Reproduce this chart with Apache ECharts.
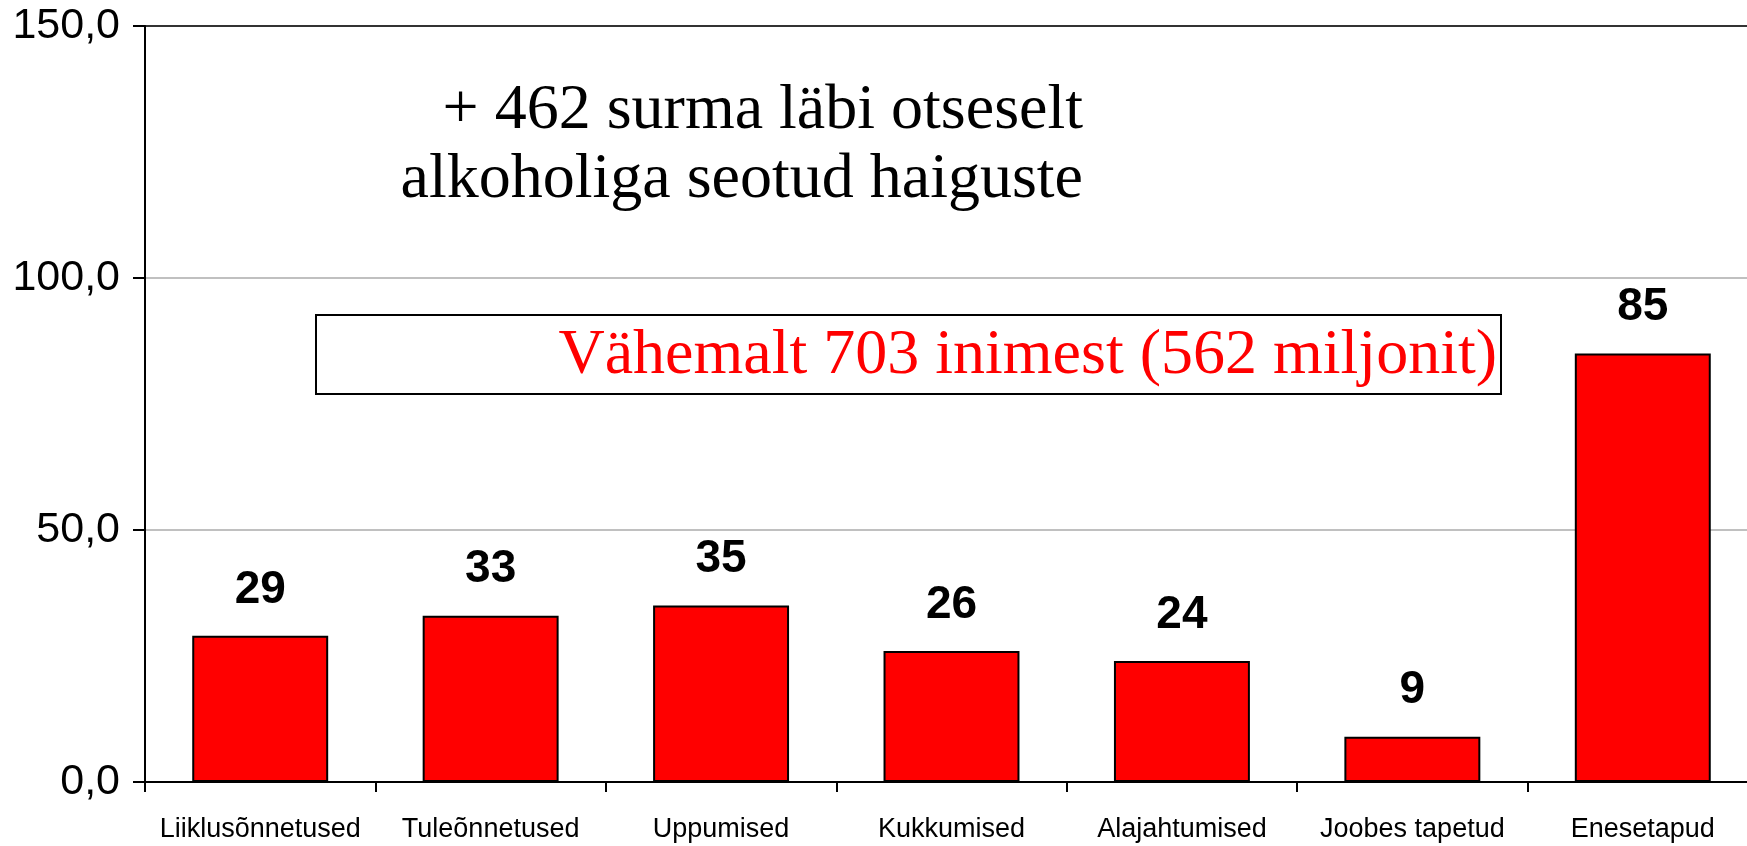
<!DOCTYPE html>
<html>
<head>
<meta charset="utf-8">
<script src="https://cdn.jsdelivr.net/npm/echarts@6/dist/echarts.min.js"></script>
<style>
  html, body { margin: 0; padding: 0; background: #fff; overflow: hidden; }
  #main { width: 1758px; height: 846px; }
</style>
</head>
<body>
<div id="main"></div>
<script>
// andmed
var categories = ['Liiklusõnnetused', 'Tuleõnnetused', 'Uppumised', 'Kukkumised', 'Alajahtumised', 'Joobes tapetud', 'Enesetapud'];
var deaths = [29, 33, 35, 26, 24, 9, 85];
var yTicks = [0, 50, 100, 150];

var note1 = ['+ 462 surma läbi otseselt', 'alkoholiga seotud haiguste'];
var note2 = 'Vähemalt 703 inimest (562 miljonit)';

// joonis on veidi laiem kui aken, viimane tulp ulatub serva taha nagu originaalis
var chart = echarts.init(document.getElementById('main'));

var option = {
    animation: false,
    backgroundColor: '#fff',
    grid: { left: 145, right: 0, top: 26, bottom: 64 },
    xAxis: {
        type: 'category',
        data: categories,
        boundaryGap: true,
        axisLine: { lineStyle: { color: '#000', width: 2 } },
        axisTick: { show: true, alignWithLabel: false, length: 10, lineStyle: { color: '#000', width: 2 } },
        axisLabel: {
            interval: 0,
            margin: 34,
            color: '#000',
            fontSize: 27,
            fontFamily: '"Liberation Sans", Arial, sans-serif'
        }
    },
    yAxis: {
        type: 'value',
        min: yTicks[0],
        max: yTicks[yTicks.length - 1],
        interval: 50,
        axisLine: { show: true, lineStyle: { color: '#000', width: 2 } },
        axisTick: { show: true, inside: false, length: 12, lineStyle: { color: '#000', width: 2 } },
        axisLabel: {
            margin: 25,
            color: '#000',
            fontSize: 43,
            fontFamily: '"Liberation Sans", Arial, sans-serif',
            formatter: function (v) { return v.toFixed(1).replace('.', ','); }
        },
        splitLine: {
            show: true,
            lineStyle: { color: ['#c0c0c0', '#c0c0c0', '#c0c0c0', '#333'], width: 2 }
        }
    },
    series: [{
        type: 'bar',
        data: deaths,
        barWidth: '59%',
        itemStyle: { color: '#ff0000', borderColor: '#000', borderWidth: 2 },
        label: {
            show: true,
            position: 'top',
            distance: 23,
            color: '#000',
            fontSize: 46,
            fontWeight: 'bold',
            fontFamily: '"Liberation Sans", Arial, sans-serif'
        }
    }],
    graphic: [
        {
            type: 'text',
            x: 1083,
            y: 146,
            style: {
                text: note1.join('\n'),
                align: 'right',
                verticalAlign: 'middle',
                fontSize: 64,
                lineHeight: 69,
                fontFamily: '"Liberation Serif", "Times New Roman", serif',
                fill: '#000'
            }
        },
        {
            type: 'rect',
            shape: { x: 316, y: 315, width: 1185, height: 79 },
            style: { fill: '#fff', stroke: '#000', lineWidth: 2 }
        },
        {
            type: 'text',
            x: 1497,
            y: 356,
            style: {
                text: note2,
                align: 'right',
                verticalAlign: 'middle',
                fontSize: 64,
                fontFamily: '"Liberation Serif", "Times New Roman", serif',
                fill: '#ff0000'
            }
        }
    ]
};

chart.setOption(option);
</script>
</body>
</html>
